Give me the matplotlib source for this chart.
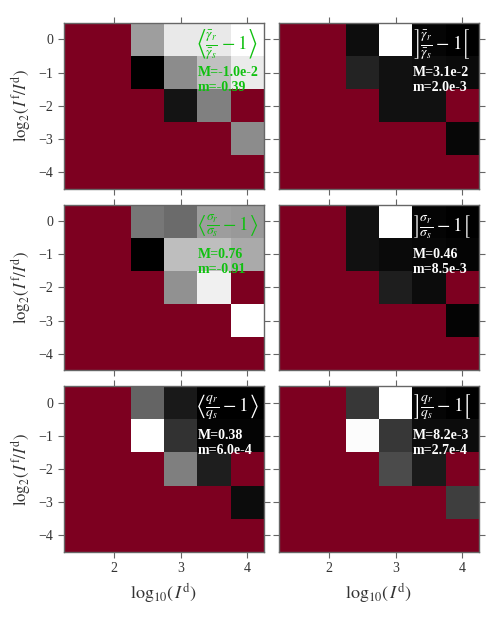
import numpy as np
import matplotlib
matplotlib.use("Agg")
import matplotlib.pyplot as plt

plt.rcParams['font.family'] = ['Liberation Serif', 'DejaVu Serif']
plt.rcParams['mathtext.fontset'] = 'stix'

# grid: log10(I^d) columns, log2(I^f/I^d) rows
x_centers = [1.5, 2.0, 2.5, 3.0, 3.5, 4.0]
y_centers = [0, -1, -2, -3, -4]
n = np.nan

# cell values (rows top -> bottom)
gam_mean = [[n, n, -0.155, -0.044, -0.044, -0.010],
            [n, n, -0.390, -0.181, -0.105, -0.040],
            [n, n, n, -0.360, -0.200, n],
            [n, n, n, n, n, -0.181],
            [n, n, n, n, n, n]]
gam_max = [[n, n, 3.5e-3, 3.1e-2, 2.6e-3, 2.0e-3],
           [n, n, 6.0e-3, 4.0e-3, 3.5e-3, 3.2e-3],
           [n, n, n, 4.0e-3, 4.0e-3, n],
           [n, n, n, n, n, 2.9e-3],
           [n, n, n, n, n, n]]
sig_mean = [[n, n, -0.13, -0.21, 0.12, 0.09],
            [n, n, -0.91, 0.33, 0.33, 0.20],
            [n, n, n, 0.04, 0.66, n],
            [n, n, n, n, n, 0.76],
            [n, n, n, n, n, n]]
sig_max = [[n, n, 0.040, 0.46, 0.017, 0.0085],
           [n, n, 0.040, 0.027, 0.022, 0.017],
           [n, n, n, 0.063, 0.031, n],
           [n, n, n, n, n, 0.017],
           [n, n, n, n, n, n]]
q_mean = [[n, n, 0.15, 0.038, 0.0006, 0.002],
          [n, n, 0.38, 0.076, 0.008, 0.008],
          [n, n, n, 0.19, 0.046, n],
          [n, n, n, n, n, 0.019],
          [n, n, n, n, n, n]]
q_max = [[n, n, 2.0e-3, 8.2e-3, 4.3e-4, 2.7e-4],
         [n, n, 8.1e-3, 2.0e-3, 6.7e-4, 6.7e-4],
         [n, n, n, 2.6e-3, 1.1e-3, n],
         [n, n, n, n, n, 2.2e-3],
         [n, n, n, n, n, n]]

panels = [gam_mean, gam_max, sig_mean, sig_max, q_mean, q_max]
labels = [r'$\left\langle \frac{\bar{\gamma}_r}{\bar{\gamma}_s} - 1 \right\rangle$',
          r'$\left] \frac{\bar{\gamma}_r}{\bar{\gamma}_s} - 1 \right[$',
          r'$\left\langle \frac{\sigma_r}{\sigma_s} - 1 \right\rangle$',
          r'$\left] \frac{\sigma_r}{\sigma_s} - 1 \right[$',
          r'$\left\langle \frac{q_r}{q_s} - 1 \right\rangle$',
          r'$\left] \frac{q_r}{q_s} - 1 \right[$']
M_txt = ['-1.0e-2', '3.1e-2', '0.76', '0.46', '0.38', '8.2e-3']
m_txt = ['-0.39', '2.0e-3', '-0.91', '8.5e-3', '6.0e-4', '2.7e-4']
txt_col = ['#10c010', 'white', '#10c010', 'white', 'white', 'white']

red = '#7d0020'
edge = '#666666'
cmap = plt.get_cmap('gray').copy()
cmap.set_bad(red)

fig, axes = plt.subplots(3, 2, figsize=(4.98, 6.18), dpi=100)
fig.subplots_adjust(left=0.1285, right=0.962, top=0.963, bottom=0.107,
                    wspace=0.075, hspace=0.096)

xe = np.append(np.array(x_centers) - 0.25, x_centers[-1] + 0.25)
ye = np.append(np.array(y_centers) + 0.5, y_centers[-1] - 0.5)

for k, ax in enumerate(axes.flat):
    Z = np.ma.masked_invalid(np.array(panels[k], dtype=float))
    ax.set_facecolor(red)
    ax.pcolormesh(xe, ye, Z, cmap=cmap, vmin=Z.min(), vmax=Z.max(),
                  edgecolors='none')
    ax.set_xlim(1.25, 4.25)
    ax.set_ylim(-4.5, 0.5)
    ax.set_xticks([2, 3, 4])
    ax.set_yticks([0, -1, -2, -3, -4])
    ax.tick_params(direction='out', length=4, width=0.8, color=edge,
                   labelsize=10, labelcolor='#333333', top=True, right=True)
    for s in ax.spines.values():
        s.set_color(edge)
        s.set_linewidth(1.0)
    r, c = divmod(k, 2)
    if r < 2:
        ax.set_xticklabels([])
    else:
        ax.set_xlabel(r'$\mathrm{log}_{10}(\,I^{\mathrm{d}})$', fontsize=13,
                      color='#333333')
    if c == 1:
        ax.set_yticklabels([])
    else:
        ax.set_ylabel(r'$\mathrm{log}_{2}(\,I^{\mathrm{f}}/I^{\mathrm{d}})$',
                      fontsize=12, color='#333333')
    ax.text(0.815, 0.87, labels[k], transform=ax.transAxes, ha='center',
            va='center', fontsize=14, color=txt_col[k])
    ax.text(0.67, 0.70, 'M=' + M_txt[k], transform=ax.transAxes, ha='left',
            va='center', fontsize=10, fontweight='bold', color=txt_col[k])
    ax.text(0.67, 0.61, 'm=' + m_txt[k], transform=ax.transAxes, ha='left',
            va='center', fontsize=10, fontweight='bold', color=txt_col[k])

fig.savefig('out.png', dpi=100)
